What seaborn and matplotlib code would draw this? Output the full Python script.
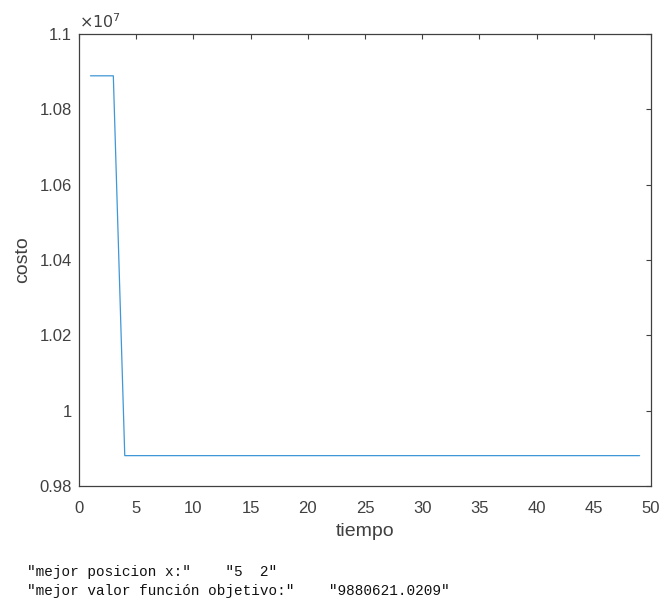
import matplotlib
matplotlib.use("Agg")
import matplotlib.pyplot as plt
from matplotlib.ticker import FuncFormatter
import pandas as pd
import seaborn as sns

# Convergence history of the optimizer (best cost per iteration)
tiempo = list(range(1, 50))
costo = [
    10889000, 10889000, 10889000,
    9880621.0209, 9880621.0209, 9880621.0209, 9880621.0209, 9880621.0209,
    9880621.0209, 9880621.0209, 9880621.0209, 9880621.0209, 9880621.0209,
    9880621.0209, 9880621.0209, 9880621.0209, 9880621.0209, 9880621.0209,
    9880621.0209, 9880621.0209, 9880621.0209, 9880621.0209, 9880621.0209,
    9880621.0209, 9880621.0209, 9880621.0209, 9880621.0209, 9880621.0209,
    9880621.0209, 9880621.0209, 9880621.0209, 9880621.0209, 9880621.0209,
    9880621.0209, 9880621.0209, 9880621.0209, 9880621.0209, 9880621.0209,
    9880621.0209, 9880621.0209, 9880621.0209, 9880621.0209, 9880621.0209,
    9880621.0209, 9880621.0209, 9880621.0209, 9880621.0209, 9880621.0209,
    9880621.0209,
]
x_ticks = [0, 5, 10, 15, 20, 25, 30, 35, 40, 45, 50]
y_ticks = [0.98e7, 1.0e7, 1.02e7, 1.04e7, 1.06e7, 1.08e7, 1.1e7]
mejor_posicion = "5  2"
mejor_valor = "9880621.0209"

df = pd.DataFrame({"tiempo": tiempo, "costo": costo})

sns.set_style("white")
plt.rcParams["font.family"] = ["Liberation Sans", "DejaVu Sans"]

gray = "#404040"
fig = plt.figure(figsize=(6.63, 6.05), dpi=100)
ax = fig.add_axes([79 / 663, 1 - 486 / 605, (651 - 79) / 663, (486 - 34) / 605])

sns.lineplot(data=df, x="tiempo", y="costo", ax=ax, color="#3f97d6", linewidth=0.9)

ax.set_xlim(0, 50)
ax.set_ylim(0.98e7, 1.1e7)
ax.set_xticks(x_ticks)
ax.set_yticks(y_ticks)
ax.yaxis.set_major_formatter(FuncFormatter(lambda v, p: f"{v / 1e7:g}"))

ax.tick_params(axis="both", which="both", direction="in", length=3.5, width=0.8,
               colors=gray, labelsize=12, top=True, right=True)
ax.tick_params(axis="x", which="major", pad=11)
ax.tick_params(axis="y", which="major", pad=5)
for lbl in ax.get_xticklabels() + ax.get_yticklabels():
    lbl.set_color(gray)
for spine in ax.spines.values():
    spine.set_visible(True)
    spine.set_color(gray)
    spine.set_linewidth(0.9)

ax.set_xlabel("tiempo", fontsize=14, color=gray, labelpad=5)
ax.set_ylabel("costo", fontsize=14, color=gray, labelpad=6)
ax.text(0.0, 1.006, r"$\times 10^7$", transform=ax.transAxes, fontsize=11.5,
        color=gray, ha="left", va="bottom", family="DejaVu Sans")

mono = ["Liberation Mono", "DejaVu Sans Mono"]
fig.text(27 / 663, 1 - 572 / 605,
         '"mejor posicion x:"    "' + mejor_posicion + '"',
         family=mono, fontsize=10.4, color="#111111", va="center", ha="left")
fig.text(27 / 663, 1 - 591 / 605,
         '"mejor valor función objetivo:"    "' + mejor_valor + '"',
         family=mono, fontsize=10.4, color="#111111", va="center", ha="left")

fig.savefig("out.png", dpi=100, facecolor="white")
